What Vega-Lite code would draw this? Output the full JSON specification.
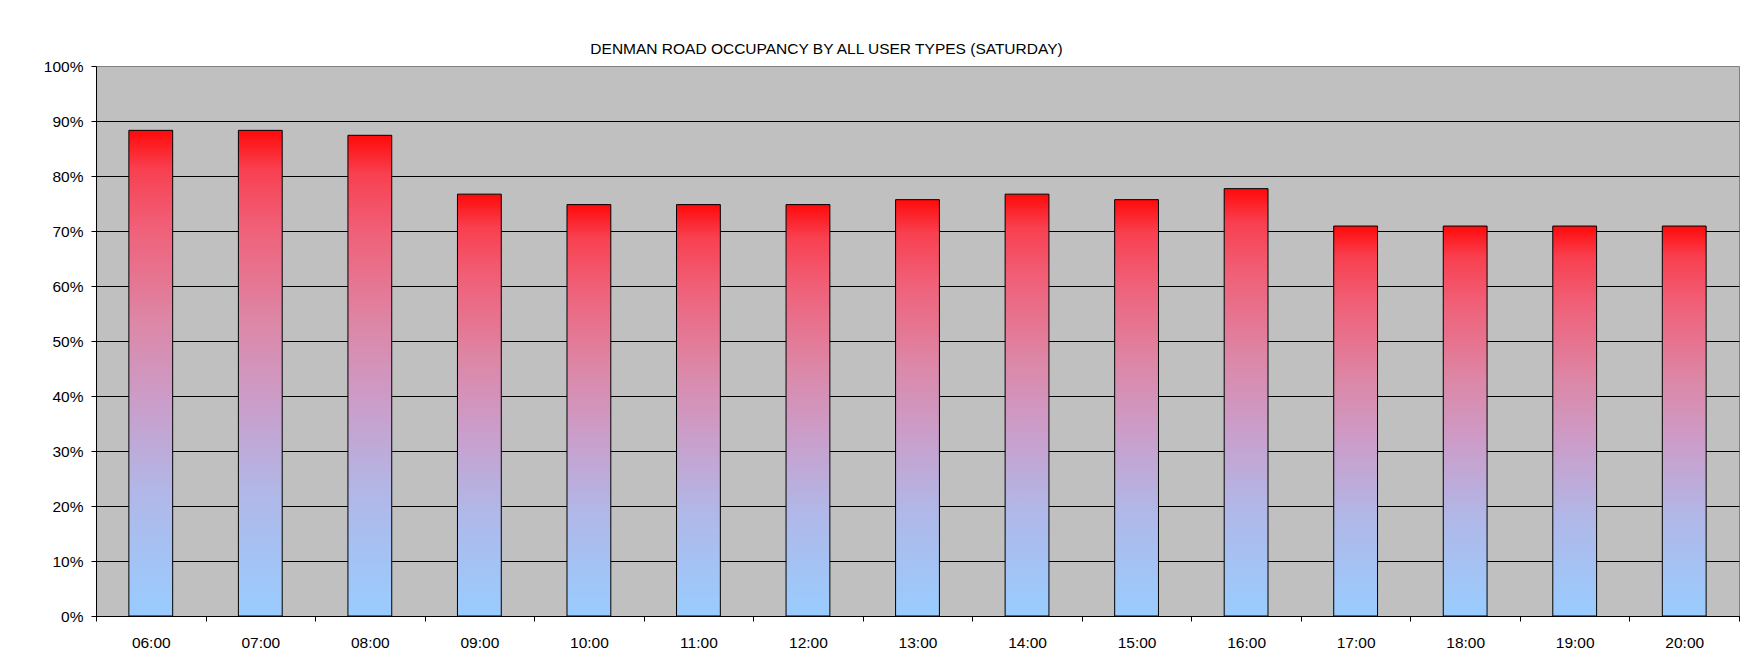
{
  "$schema": "https://vega.github.io/schema/vega-lite/v6.json",
  "autosize": "none",
  "width": 1643,
  "height": 550,
  "padding": {"left": 96, "top": 66, "right": 23, "bottom": 45},
  "background": "white",
  "title": {
    "text": "DENMAN ROAD OCCUPANCY BY ALL USER TYPES (SATURDAY)",
    "font": "Liberation Sans",
    "fontSize": 15.5,
    "fontWeight": "normal",
    "color": "black",
    "anchor": "middle",
    "dx": -91,
    "offset": 2
  },
  "config": {
    "view": {"fill": "#C0C0C0", "stroke": "#808080", "strokeWidth": 1},
    "axis": {
      "labelFont": "Liberation Sans",
      "labelFontSize": 15.5,
      "labelColor": "black",
      "domainColor": "black",
      "tickColor": "black",
      "tickSize": 5
    }
  },
  "data": {
    "values": [
      {"time": "06:00", "occupancy": 0.883},
      {"time": "07:00", "occupancy": 0.883},
      {"time": "08:00", "occupancy": 0.874},
      {"time": "09:00", "occupancy": 0.767},
      {"time": "10:00", "occupancy": 0.748},
      {"time": "11:00", "occupancy": 0.748},
      {"time": "12:00", "occupancy": 0.748},
      {"time": "13:00", "occupancy": 0.757},
      {"time": "14:00", "occupancy": 0.767},
      {"time": "15:00", "occupancy": 0.757},
      {"time": "16:00", "occupancy": 0.777},
      {"time": "17:00", "occupancy": 0.709},
      {"time": "18:00", "occupancy": 0.709},
      {"time": "19:00", "occupancy": 0.709},
      {"time": "20:00", "occupancy": 0.709}
    ]
  },
  "mark": {
    "type": "bar",
    "width": {"band": 0.4},
    "stroke": "black",
    "strokeWidth": 1,
    "color": {
      "gradient": "linear",
      "x1": 0, "y1": 1, "x2": 0, "y2": 0,
      "stops": [
        {"offset": 0, "color": "#99CCFF"},
        {"offset": 0.25, "color": "#B0B8E8"},
        {"offset": 0.45, "color": "#CC9CC8"},
        {"offset": 0.6, "color": "#DC88A8"},
        {"offset": 0.8, "color": "#F06078"},
        {"offset": 0.92, "color": "#F84050"},
        {"offset": 1, "color": "#FF0A0A"}
      ]
    }
  },
  "encoding": {
    "x": {
      "field": "time",
      "type": "ordinal",
      "title": null,
      "scale": {"paddingInner": 0, "paddingOuter": 0},
      "axis": {
        "labelAngle": 0,
        "tickBand": "extent",
        "labelPadding": 14,
        "grid": false
      }
    },
    "y": {
      "field": "occupancy",
      "type": "quantitative",
      "title": null,
      "scale": {"domain": [0, 1], "nice": false},
      "axis": {
        "values": [0, 0.1, 0.2, 0.3, 0.4, 0.5, 0.6, 0.7, 0.8, 0.9, 1],
        "format": ".0%",
        "labelPadding": 8,
        "grid": true,
        "gridColor": "black",
        "gridOpacity": {"condition": {"test": "datum.value >= 1", "value": 0}, "value": 1}
      }
    }
  }
}
